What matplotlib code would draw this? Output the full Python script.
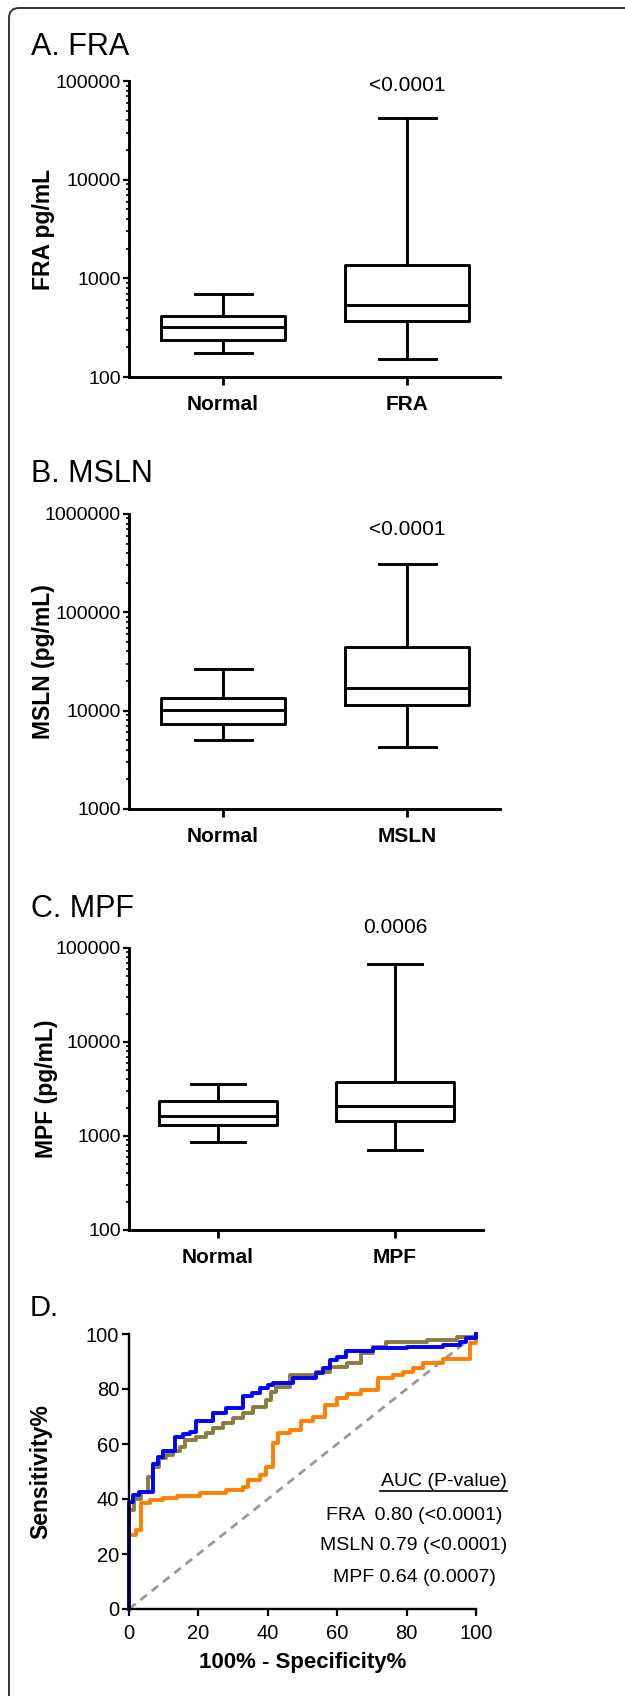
import numpy as np
import matplotlib
matplotlib.use("Agg")
import matplotlib.pyplot as plt
from matplotlib.patches import FancyBboxPatch
from matplotlib.lines import Line2D
from matplotlib.ticker import LogLocator, NullFormatter

plt.rcParams['font.family'] = ['Liberation Sans', 'DejaVu Sans']

W, H = 625, 1696

# box plot summaries: [whisker low, Q1, median, Q3, whisker high] in pg/mL
fra_names = ["Normal", "FRA"]
fra_normal = [175, 237, 321, 415, 693]
fra_case = [152, 369, 537, 1365, 42000]

msln_names = ["Normal", "MSLN"]
msln_normal = [5040, 7380, 10200, 13460, 26500]
msln_case = [4250, 11430, 16900, 44500, 308000]

mpf_names = ["Normal", "MPF"]
mpf_normal = [863, 1309, 1645, 2355, 3550]
mpf_case = [705, 1446, 2085, 3750, 67600]

# ROC curves (100% - specificity, sensitivity), step points
fra_fpr = [0, 0, 1.2, 3.0, 6.9, 8.4, 9.8, 13.2, 15.5, 17.5, 19.4, 24.2, 28.0, 32.9, 35.5,
           37.7, 40.0, 41.5, 47.3, 54.0, 56.0, 57.8, 60.0, 62.6, 70.3, 80.0, 90.5, 95.5, 97.2, 100]
fra_tpr = [0, 39.0, 41.5, 42.5, 52.8, 55.4, 57.3, 62.7, 63.5, 64.2, 68.2, 71.3, 73.1, 77.6, 78.5,
           80.3, 81.5, 82.2, 84.0, 85.8, 87.5, 90.7, 91.8, 93.7, 94.9, 95.4, 96.1, 97.0, 98.5, 100]

msln_fpr = [0, 0, 1.5, 3.5, 5.5, 6.9, 8.7, 10.8, 12.7, 14.6, 16.0, 19.4, 22.3, 24.2, 27.1, 30.0,
            32.9, 35.8, 39.6, 41.0, 42.5, 46.3, 54.0, 57.9, 62.7, 67.0, 70.4, 74.2, 85.8, 94.4, 100]
msln_tpr = [0, 36, 40, 42.5, 48, 51.8, 54.8, 56, 57.6, 59, 61.5, 62.7, 63.9, 65.7, 67.5, 69.4,
            71.2, 73.6, 76, 79, 80.9, 85.1, 86.3, 88.1, 89.3, 93, 95.4, 97.2, 97.8, 99, 100]

mpf_fpr = [0, 0, 2.1, 3.6, 6.0, 9.8, 13.7, 20.4, 28.0, 32.9, 34.3, 37.7, 39.6, 41.5, 43.0, 46.3,
           49.7, 53.0, 56.4, 59.8, 62.7, 67.0, 71.8, 76.2, 79.0, 81.9, 84.8, 90.6, 98.3, 100]
mpf_tpr = [0, 27, 28.8, 38.5, 39.7, 40.3, 41.2, 42.1, 43.3, 44.5, 47.0, 48.8, 51.8, 60.3, 63.9, 65.1,
           68.2, 70.0, 74.2, 76.6, 78.2, 79.7, 83.9, 85.1, 86.3, 87.5, 89.3, 90.8, 96.6, 100]

chance = [0, 100]

auc_text = ["FRA  0.80 (<0.0001)", "MSLN 0.79 (<0.0001)", "MPF 0.64 (0.0007)"]


def rect(l, t, r, b):
    return [l / W, 1 - b / H, (r - l) / W, (b - t) / H]


def fy(y):
    return 1 - y / H


fig = plt.figure(figsize=(W / 100, H / 100), dpi=100)

# rounded frame, open to the right and bottom
frame = FancyBboxPatch((9, -40), 700, H - 8 + 40, boxstyle="round,pad=0,rounding_size=10",
                       fill=False, edgecolor="#333333", linewidth=1.4, transform=None)
fig.add_artist(frame)


def box_panel(pos, names, normal, case, ylim, xlim, ylabel, pval, pval_y):
    ax = fig.add_axes(pos)
    stats = []
    for n, s in zip(names, [normal, case]):
        stats.append(dict(whislo=s[0], q1=s[1], med=s[2], q3=s[3], whishi=s[4], label=n))
    lp = dict(color="black", linewidth=2.1)
    ax.bxp(stats, positions=[0, 1], widths=0.67, capwidths=0.31, showfliers=False,
           boxprops=lp, whiskerprops=lp, capprops=lp, medianprops=lp)
    ax.set_yscale("log")
    ax.set_ylim(*ylim)
    ax.set_xlim(*xlim)
    ax.yaxis.set_major_locator(LogLocator(base=10))
    ax.yaxis.set_minor_locator(LogLocator(base=10, subs=np.arange(2, 10)))
    ax.yaxis.set_minor_formatter(NullFormatter())
    ax.yaxis.set_major_formatter(plt.FuncFormatter(lambda v, p: "%d" % round(v)))
    for s in ["top", "right"]:
        ax.spines[s].set_visible(False)
    for s in ["left", "bottom"]:
        ax.spines[s].set_linewidth(2.1)
    ax.tick_params(axis="y", which="major", length=4, width=1.6, pad=2, labelsize=14)
    ax.tick_params(axis="y", which="minor", length=2.5, width=1.2)
    ax.tick_params(axis="x", length=6, width=2, pad=7, labelsize=15)
    for lbl in ax.get_xticklabels():
        lbl.set_fontweight("bold")
    ax.set_ylabel(ylabel, fontsize=16.5, fontweight="bold")
    ax.yaxis.set_label_coords(-0.2, 0.5)
    ax.text(1, pval_y, pval, transform=ax.get_xaxis_transform(), ha="center", va="center",
            fontsize=15)
    return ax


box_panel(rect(129, 81, 500, 377), fra_names, fra_normal, fra_case, (100, 100000),
          (-0.511, 1.505), "FRA pg/mL", "<0.0001", 0.986)
fig.text(31 / W, fy(55), "A. FRA", fontsize=22, va="baseline")

box_panel(rect(129, 514, 500, 809), msln_names, msln_normal, msln_case, (1000, 1000000),
          (-0.511, 1.505), "MSLN (pg/mL)", "<0.0001", 0.946)
fig.text(31 / W, fy(482), "B. MSLN", fontsize=22, va="baseline")

box_panel(rect(129, 948, 483, 1230), mpf_names, mpf_normal, mpf_case, (100, 100000),
          (-0.503, 1.497), "MPF (pg/mL)", "0.0006", 1.074)
fig.text(31 / W, fy(917), "C. MPF", fontsize=22, va="baseline")

# ROC panel
ax = fig.add_axes(rect(129, 1334, 476, 1609))
ax.plot(chance, chance, color="#999999", linestyle=(0, (3, 2.2)), linewidth=2)
ax.plot(mpf_fpr, mpf_tpr, drawstyle="steps-post", color="#ff8000", linewidth=2.8, clip_on=False)
ax.plot(msln_fpr, msln_tpr, drawstyle="steps-post", color="#8c7b3e", linewidth=2.8, clip_on=False)
ax.plot(fra_fpr, fra_tpr, drawstyle="steps-post", color="#0000ff", linewidth=2.8, clip_on=False)
ax.set_xlim(0, 100)
ax.set_ylim(0, 100)
ax.set_xticks(np.arange(0, 101, 20))
ax.set_yticks(np.arange(0, 101, 20))
for s in ["top", "right"]:
    ax.spines[s].set_visible(False)
for s in ["left", "bottom"]:
    ax.spines[s].set_linewidth(1.7)
ax.tick_params(axis="both", length=5, width=1.6, labelsize=14.5)
ax.tick_params(axis="x", pad=6)
ax.tick_params(axis="y", pad=2)
ax.set_xlabel("100% - Specificity%", fontsize=16, fontweight="bold", labelpad=6)
ax.set_ylabel("Sensitivity%", fontsize=16.5, fontweight="bold")
ax.yaxis.set_label_coords(-0.222, 0.5)
fig.text(30 / W, fy(1316), "D.", fontsize=21, va="baseline")

fig.text(443.5 / W, fy(1482), "AUC (P-value)", fontsize=14, ha="center", va="center")
fig.add_artist(Line2D([380 / W, 507 / W], [fy(1491), fy(1491)], color="black", linewidth=1.2))
for t, yy in zip(auc_text, [1516, 1546, 1578]):
    fig.text(414 / W, fy(yy), t, fontsize=14, ha="center", va="center")

fig.savefig("out.png", dpi=100)
